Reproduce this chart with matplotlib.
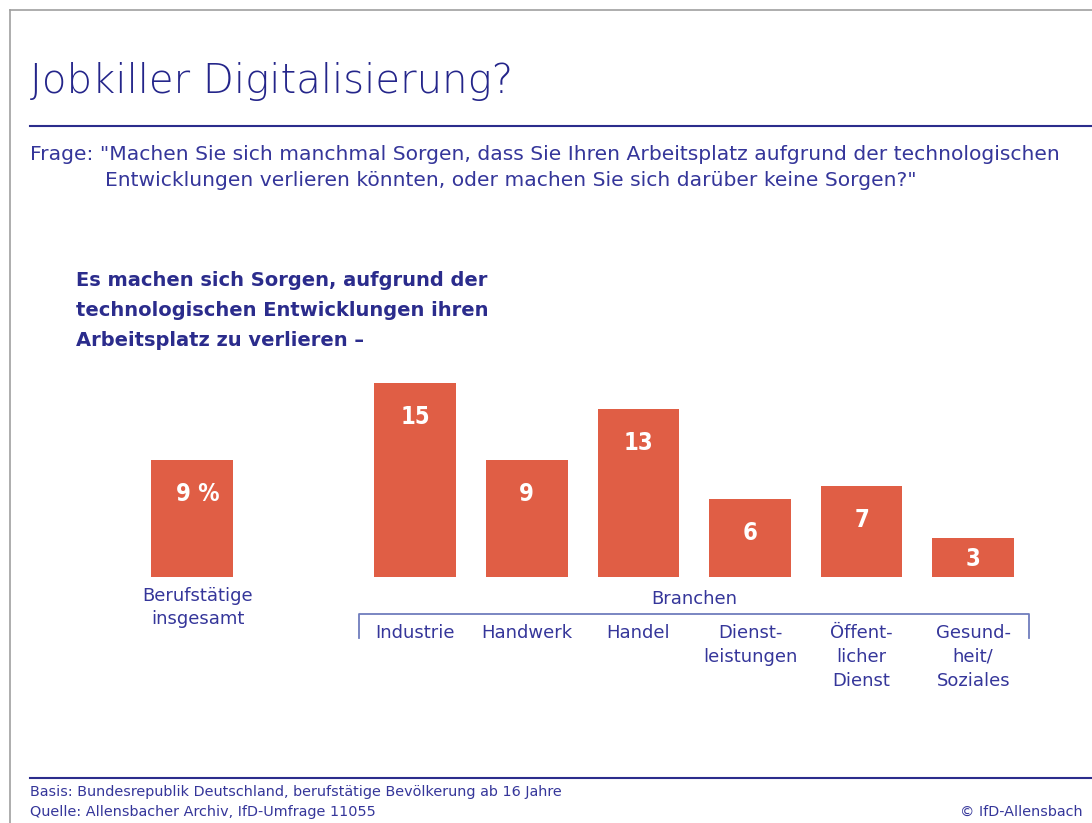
import matplotlib
matplotlib.use("Agg")
import matplotlib.pyplot as plt
from matplotlib.lines import Line2D
import matplotlib.transforms as mtransforms

# ---- data ----
title = "Jobkiller Digitalisierung?"
question_1 = "Frage: \"Machen Sie sich manchmal Sorgen, dass Sie Ihren Arbeitsplatz aufgrund der technologischen"
question_2 = "Entwicklungen verlieren könnten, oder machen Sie sich darüber keine Sorgen?\""
subtitle = "Es machen sich Sorgen, aufgrund der\ntechnologischen Entwicklungen ihren\nArbeitsplatz zu verlieren –"
total_label = "Berufstätige\ninsgesamt"
total_value = 9
group_label = "Branchen"
branches = ["Industrie", "Handwerk", "Handel", "Dienst-\nleistungen", "Öffent-\nlicher\nDienst", "Gesund-\nheit/\nSoziales"]
branch_values = [15, 9, 13, 6, 7, 3]
footer_basis = "Basis: Bundesrepublik Deutschland, berufstätige Bevölkerung ab 16 Jahre"
footer_source = "Quelle: Allensbacher Archiv, IfD-Umfrage 11055"
copyright_text = "© IfD-Allensbach"

# ---- style ----
W, H = 1092, 823
BLUE = "#2b2c8c"
TEXT = "#35369a"
BAR = "#e05e45"
BRACKET = "#6f7dbd"
FONT = "DejaVu Sans"

fig = plt.figure(figsize=(W / 100, H / 100), dpi=100)
fig.patch.set_facecolor("white")

def fx(px):
    return px / W

def fy(py):
    return 1 - py / H

# frame lines (gray)
fig.add_artist(Line2D([fx(10), fx(10)], [fy(10), fy(823)], color="#a0a0a0", lw=1.2))
fig.add_artist(Line2D([fx(10), 1], [fy(10), fy(10)], color="#a0a0a0", lw=1.2))

# title
fig.text(fx(30), fy(93), title, fontsize=29, color="#24258a", family=FONT, fontweight="light",
         va="baseline", ha="left")
fig.add_artist(Line2D([fx(30), 1], [fy(126), fy(126)], color=BLUE, lw=1.5))

# question
fig.text(fx(30), fy(155), question_1, fontsize=14.6, color=TEXT, family=FONT, va="center", ha="left")
fig.text(fx(105), fy(181), question_2, fontsize=14.6, color=TEXT, family=FONT, va="center", ha="left")

# subtitle
fig.text(fx(76), fy(271), subtitle, fontsize=14, fontweight="bold", color=BLUE, family=FONT,
         va="top", ha="left", linespacing=1.74)

# ---- bars ----
unit_px = 111.6
x0_px = 192
base_py = 577
px_per_val = 12.95
ymax = 20
ax = fig.add_axes([fx(0), fy(base_py), 1, ymax * px_per_val / H])
ax.set_xlim(-x0_px / unit_px, (W - x0_px) / unit_px)
ax.set_ylim(0, ymax)
ax.axis("off")

positions = [0] + [2 + i for i in range(len(branches))]
values = [total_value] + branch_values
labels_in = [f"{total_value} %"] + [str(v) for v in branch_values]
ax.bar(positions, values, width=0.73, color=BAR, zorder=2)

pt_per_px = 72 / 100
for i, (x, v, lab) in enumerate(zip(positions, values, labels_in)):
    h_px = v * px_per_val
    off = min(34, h_px / 2 + 1)
    dx = 6 if i == 0 else 0
    ax.annotate(lab, xy=(x, v), xytext=(dx * pt_per_px, -off * pt_per_px), textcoords="offset points",
                ha="center", va="center", color="white", fontsize=17, fontweight="bold",
                family=FONT, fontstretch="condensed")

# category labels
ax.annotate(total_label, xy=(0.05, 0), xytext=(0, -(597 - base_py - 10) * pt_per_px),
            textcoords="offset points", ha="center", va="top", color=TEXT, fontsize=13,
            family=FONT, linespacing=1.33, annotation_clip=False)
for x, lab in zip(positions[1:], branches):
    ax.annotate(lab, xy=(x, 0), xytext=(0, -(634 - base_py - 10) * pt_per_px),
                textcoords="offset points", ha="center", va="top", color=TEXT, fontsize=13,
                family=FONT, linespacing=1.42, annotation_clip=False)

# Branchen bracket
blend = mtransforms.blended_transform_factory(ax.transData, fig.transFigure)
left = positions[1] - 0.5
right = positions[-1] + 0.5
ax.add_line(Line2D([left, left, right, right], [fy(638), fy(614), fy(614), fy(638)],
                   transform=blend, color=BRACKET, lw=1.3, clip_on=False))
ax.text((left + right) / 2, fy(599), group_label, transform=blend, ha="center", va="center",
        color=TEXT, fontsize=13, family=FONT)

# footer
fig.add_artist(Line2D([fx(30), 1], [fy(778), fy(778)], color=BLUE, lw=1.5))
fig.text(fx(30), fy(792), footer_basis, fontsize=10.4, color=TEXT, family=FONT, va="center", ha="left")
fig.text(fx(30), fy(812), footer_source, fontsize=10.4, color=TEXT, family=FONT, va="center", ha="left")
fig.text(fx(1083), fy(812), copyright_text, fontsize=10.4, color=TEXT, family=FONT, va="center", ha="right")

fig.savefig("out.png", dpi=100, facecolor="white")
